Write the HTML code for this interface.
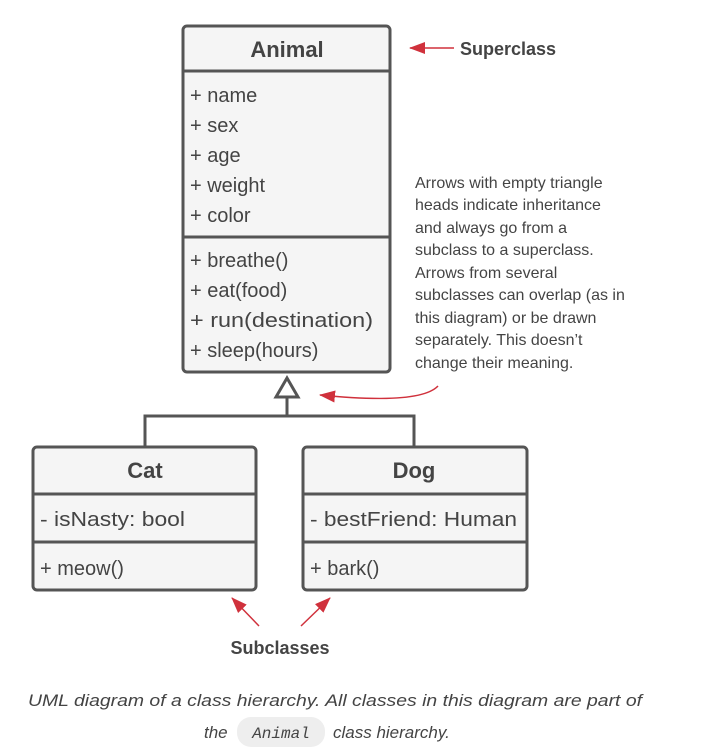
<!DOCTYPE html>
<html><head><meta charset="utf-8"><style>
html,body{margin:0;padding:0;background:#fff;width:707px;height:751px;overflow:hidden}
svg text{font-family:"Liberation Sans",sans-serif;fill:#444}
</style></head><body>
<svg width="707" height="751" viewBox="0 0 707 751" xmlns="http://www.w3.org/2000/svg">
<defs>
<marker id="ar2" markerWidth="16" markerHeight="12" refX="15" refY="6" orient="auto" markerUnits="userSpaceOnUse">
<path d="M0,0 L16,6 L0,12 Z" fill="#d0313c"/></marker>
</defs>
<g stroke="#555" stroke-width="3" fill="#f5f5f5">
<rect x="183" y="26" width="207" height="346" rx="4"/>
<line x1="183" y1="71" x2="390" y2="71"/>
<line x1="183" y1="237" x2="390" y2="237"/>
<rect x="33" y="447" width="223" height="143" rx="4"/>
<line x1="33" y1="494" x2="256" y2="494"/>
<line x1="33" y1="542" x2="256" y2="542"/>
<rect x="303" y="447" width="224" height="143" rx="4"/>
<line x1="303" y1="494" x2="527" y2="494"/>
<line x1="303" y1="542" x2="527" y2="542"/>
<path d="M287,378 L298,397 L276,397 Z" fill="#fff"/>
<path d="M287,397 V416 M145,446 V416 H414 V446" fill="none"/>
</g>
<g font-size="20">
<text x="287" y="57" text-anchor="middle" font-weight="bold" font-size="22">Animal</text>
<text x="190" y="102">+ name</text>
<text x="190" y="132">+ sex</text>
<text x="190" y="162">+ age</text>
<text x="190" y="192">+ weight</text>
<text x="190" y="222">+ color</text>
<text x="190" y="267">+ breathe()</text>
<text x="190" y="297">+ eat(food)</text>
<text x="190" y="327" textLength="183" lengthAdjust="spacingAndGlyphs">+ run(destination)</text>
<text x="190" y="357">+ sleep(hours)</text>
<text x="145" y="478" text-anchor="middle" font-weight="bold" font-size="22">Cat</text>
<text x="414" y="478" text-anchor="middle" font-weight="bold" font-size="22">Dog</text>
<text x="40" y="526" textLength="145" lengthAdjust="spacingAndGlyphs">- isNasty: bool</text>
<text x="310" y="526" textLength="207" lengthAdjust="spacingAndGlyphs">- bestFriend: Human</text>
<text x="40" y="575">+ meow()</text>
<text x="310" y="575">+ bark()</text>
</g>
<text x="460" y="55" font-size="18" font-weight="bold">Superclass</text>
<text x="280" y="654" font-size="18" font-weight="bold" text-anchor="middle">Subclasses</text>
<g stroke="#d0313c" stroke-width="1.5" fill="none">
<line x1="454" y1="48" x2="410" y2="48" marker-end="url(#ar2)"/>
<path d="M438,386 Q420,405 320,395" marker-end="url(#ar2)"/>
<line x1="259" y1="626" x2="232" y2="598" marker-end="url(#ar2)"/>
<line x1="301" y1="626" x2="330" y2="598" marker-end="url(#ar2)"/>
</g>
<g font-size="16">
<text x="415" y="188">Arrows with empty triangle</text>
<text x="415" y="210">heads indicate inheritance</text>
<text x="415" y="233">and always go from a</text>
<text x="415" y="255">subclass to a superclass.</text>
<text x="415" y="278">Arrows from several</text>
<text x="415" y="300">subclasses can overlap (as in</text>
<text x="415" y="323">this diagram) or be drawn</text>
<text x="415" y="345">separately. This doesn’t</text>
<text x="415" y="368">change their meaning.</text>
</g>
<g font-size="17" font-style="italic">
<text x="28" y="706" textLength="614" lengthAdjust="spacingAndGlyphs">UML diagram of a class hierarchy. All classes in this diagram are part of</text>
<text x="204" y="738">the</text>
<rect x="237" y="717" width="88" height="30" rx="14" fill="#eee"/>
<text x="281" y="738" text-anchor="middle" style="font-family:'Liberation Mono',monospace" font-size="16">Animal</text>
<text x="333" y="738">class hierarchy.</text>
</g>
</svg>
</body></html>
